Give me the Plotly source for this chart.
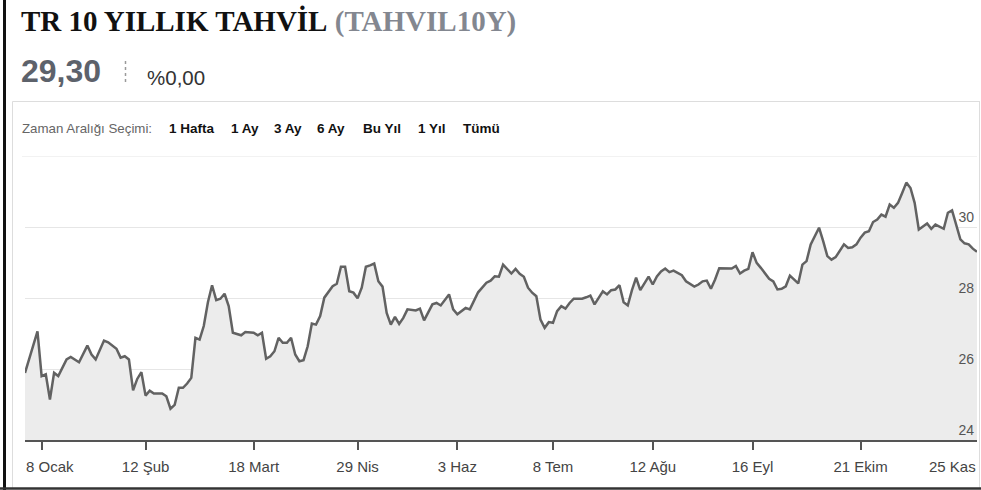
import plotly.graph_objects as go

# Canvas and plot-area geometry (pixels)
W, H = 981, 490
L, R, T, B = 25, 4, 156, 50

# Daily closing yield (%) by trading session, counted from the first session of the year
session = [
    0, 3, 4, 5, 6, 7, 8, 10, 11, 13, 15, 16, 17, 19, 20, 22, 23, 24, 25, 26,
    27, 28, 29, 30, 31, 33, 34, 35, 36, 37, 38, 39, 40, 41, 42, 43, 44, 45, 46, 47,
    48, 49, 50, 52, 53, 55, 56, 57,
    58, 59, 60, 61, 62, 63, 64, 65, 66, 67, 68, 69, 70, 71, 72, 74, 75, 76, 77, 78,
    79, 80, 81, 82, 83, 84, 85, 86, 87, 88, 89, 90, 91, 92, 94, 95, 96, 97, 98, 99,
    100, 102, 103, 104, 105, 106, 107, 108, 109, 111, 112, 113, 114, 115,
    116, 117, 118, 119, 120, 121, 122, 123, 124, 125, 126, 127, 128, 129, 130, 131,
    132, 134, 135, 136, 137, 138, 139, 140, 141, 142, 143, 144, 145, 146, 147, 148,
    149, 150, 151, 152, 153, 154, 155, 156, 158, 159, 161, 162, 163, 164, 165, 166,
    167, 168, 169, 170, 171, 172,
    173, 174, 175, 176, 177, 179, 180, 181, 182, 183, 184, 185, 186, 187, 188, 189,
    190, 191, 192, 193, 194, 195, 197, 198, 199, 200, 201, 202, 203, 204, 205, 206,
    207, 208, 209, 210, 211, 212, 213, 214, 215, 216, 217, 218, 219, 221, 222, 223,
    224, 225, 226, 227, 228, 229,
]
yield_pct = [
    25.89, 27.06, 25.80, 25.85, 25.14, 25.89, 25.80, 26.27, 26.34, 26.19, 26.66, 26.41, 26.27, 26.80, 26.75, 26.57, 26.32, 26.36, 26.27, 25.40,
    25.72, 25.91, 25.25, 25.39, 25.31, 25.31, 25.23, 24.88, 24.99, 25.47, 25.47, 25.59, 25.75, 26.88, 26.83, 27.21, 27.88, 28.36, 27.94, 27.98,
    28.12, 27.77, 27.02, 26.95, 27.04, 27.02, 26.95, 27.02,
    26.29, 26.36, 26.50, 26.88, 26.74, 26.74, 26.88, 26.41, 26.22, 26.25, 26.64, 27.28, 27.25, 27.49, 28.01, 28.33, 28.40, 28.88, 28.88, 28.19,
    28.15, 27.99, 28.29, 28.88, 28.92, 28.97, 28.47, 28.32, 27.58, 27.25, 27.47, 27.27, 27.44, 27.68, 27.65, 27.70, 27.37, 27.60, 27.82, 27.86,
    27.79, 28.10, 27.68, 27.54, 27.63, 27.72, 27.68, 27.91, 28.16, 28.43, 28.49, 28.61, 28.60, 28.94,
    28.82, 28.69, 28.82, 28.68, 28.60, 28.29, 28.15, 28.05, 27.39, 27.16, 27.32, 27.30, 27.63, 27.77, 27.70, 27.86,
    27.98, 27.98, 28.02, 28.07, 27.82, 28.02, 28.19, 28.10, 28.22, 28.24, 28.36, 27.88, 27.79, 28.22, 28.57, 28.22,
    28.43, 28.60, 28.38, 28.61, 28.75, 28.83, 28.73, 28.77, 28.64, 28.47, 28.32, 28.38, 28.47, 28.49, 28.26, 28.52,
    28.84, 28.83, 28.83, 28.83, 28.90, 28.69,
    28.77, 28.82, 29.29, 28.99, 28.85, 28.54, 28.47, 28.24, 28.26, 28.33, 28.63, 28.52, 28.41, 28.94, 29.04, 29.51,
    29.74, 29.98, 29.60, 29.18, 29.08, 29.15, 29.51, 29.41, 29.43, 29.51, 29.70, 29.84, 29.88, 30.14, 30.21, 30.35,
    30.29, 30.63, 30.54, 30.68, 30.96, 31.25, 31.10, 30.68, 29.93, 30.02, 30.10, 29.95, 30.07, 29.95, 30.40, 30.47,
    30.07, 29.65, 29.54, 29.51, 29.39, 29.30,
]

# Date labels on the session axis
tick_sessions = [4, 29, 55, 80, 104, 127, 151, 175, 201, 226]
tick_labels = ["8 Ocak", "12 Şub", "18 Mart", "29 Nis", "3 Haz", "8 Tem", "12 Ağu", "16 Eyl", "21 Ekim", "25 Kas"]
y_ticks = [24, 26, 28, 30, 32]

change_pct = 0.00
range_buttons = ["1 Hafta", "1 Ay", "3 Ay", "6 Ay", "Bu Yıl", "1 Yıl", "Tümü"]
button_left = [168, 230, 273, 316, 362, 417, 462]

SANS = "Liberation Sans, Arial, sans-serif"
SERIF = "Liberation Serif, Times New Roman, serif"
AXIS_FONT = dict(family=SANS, size=15, color="#444444")


def fx(x):
    """Pixel x -> paper x."""
    return (x - L) / (W - L - R)


def fy(y):
    """Pixel y (from top) -> paper y."""
    return (H - B - y) / (H - T - B)


def tr_num(v):
    return f"{v:.2f}".replace(".", ",")


fig = go.Figure()
fig.add_trace(go.Scatter(
    x=session, y=yield_pct, mode="lines",
    line=dict(color="#626262", width=2.5),
    fill="tozeroy", fillcolor="#ececec",
    hoverinfo="skip", showlegend=False,
))

annotations = [
    dict(x=fx(19), y=fy(21.5), xanchor="left", yanchor="middle",
         text="<b>TR 10 YILLIK TAHVİL</b> <b><span style='color:#838790'>(TAHVIL10Y)</span></b>",
         font=dict(family=SERIF, size=29, color="#111111")),
    dict(x=fx(19), y=fy(71.5), xanchor="left", yanchor="middle",
         text=f"<b>{tr_num(yield_pct[-1])}</b>",
         font=dict(family=SANS, size=32, color="#5d626b")),
    dict(x=fx(145), y=fy(77), xanchor="left", yanchor="middle",
         text=f"%{tr_num(change_pct)}",
         font=dict(family=SANS, size=20.5, color="#333333")),
    dict(x=fx(20), y=fy(128.5), xanchor="left", yanchor="middle",
         text="Zaman Aralığı Seçimi:",
         font=dict(family=SANS, size=13.3, color="#666666")),
    # end-of-axis date labels are kept inside the plot width
    dict(x=fx(24), y=fy(466.5), xanchor="left", yanchor="middle",
         text=tick_labels[0], font=AXIS_FONT),
    dict(x=fx(978), y=fy(466.5), xanchor="right", yanchor="middle",
         text=tick_labels[-1], font=AXIS_FONT),
]
for label, left in zip(range_buttons, button_left):
    annotations.append(dict(
        x=fx(left - 1), y=fy(128.5), xanchor="left", yanchor="middle",
        text=f"<b>{label}</b>", font=dict(family=SANS, size=13.5, color="#111111")))
for a in annotations:
    a.update(xref="paper", yref="paper", showarrow=False)

shapes = [
    # panel frame
    dict(type="line", x0=fx(12.5), x1=fx(980), y0=fy(101.5), y1=fy(101.5),
         line=dict(color="#dddddd", width=1)),
    dict(type="line", x0=fx(12.5), x1=fx(12.5), y0=fy(101.5), y1=fy(488),
         line=dict(color="#dddddd", width=1)),
    dict(type="line", x0=fx(979.5), x1=fx(979.5), y0=fy(101.5), y1=fy(488),
         line=dict(color="#dddddd", width=1)),
    # outer dark edges
    dict(type="line", x0=fx(4.5), x1=fx(4.5), y0=fy(0), y1=fy(490),
         line=dict(color="#111111", width=3)),
    dict(type="line", x0=fx(0), x1=fx(981), y0=fy(488.5), y1=fy(488.5),
         line=dict(color="#333333", width=2.5)),
    # dotted separator between price and change
    dict(type="line", x0=fx(125.5), x1=fx(125.5), y0=fy(61), y1=fy(85),
         line=dict(color="#9a9a9a", width=1.5, dash="dot")),
]
for s in shapes:
    s.update(xref="paper", yref="paper", layer="above")
# top grid line of the value axis
shapes.append(dict(type="line", xref="paper", yref="y", x0=fx(22), x1=1,
                   y0=y_ticks[-1], y1=y_ticks[-1], layer="below",
                   line=dict(color="#e6e6e6", width=1)))

fig.update_layout(
    width=W, height=H,
    margin=dict(l=L, r=R, t=T, b=B, pad=0),
    paper_bgcolor="white", plot_bgcolor="white",
    annotations=annotations, shapes=shapes,
    xaxis=dict(
        range=[session[0], session[-1]],
        tickmode="array", tickvals=tick_sessions,
        ticktext=[""] + tick_labels[1:-1] + [""],
        showgrid=False, zeroline=False,
        showline=True, linecolor="#555555", linewidth=1.5,
        ticks="outside", ticklen=8, tickwidth=1.5, tickcolor="#555555",
        ticklabelstandoff=4,
        tickfont=AXIS_FONT,
        fixedrange=True,
    ),
    yaxis=dict(
        range=[y_ticks[0], y_ticks[-1]], side="right",
        tickmode="array", tickvals=y_ticks,
        ticktext=[str(v) if v < y_ticks[-1] else "" for v in y_ticks],
        ticklabelposition="inside top",
        showgrid=True, gridcolor="#e6e6e6", gridwidth=1,
        zeroline=False, showline=False, ticks="",
        tickfont=dict(family=SANS, size=14, color="#555555"),
        fixedrange=True,
    ),
)

fig.write_html("out.html")
